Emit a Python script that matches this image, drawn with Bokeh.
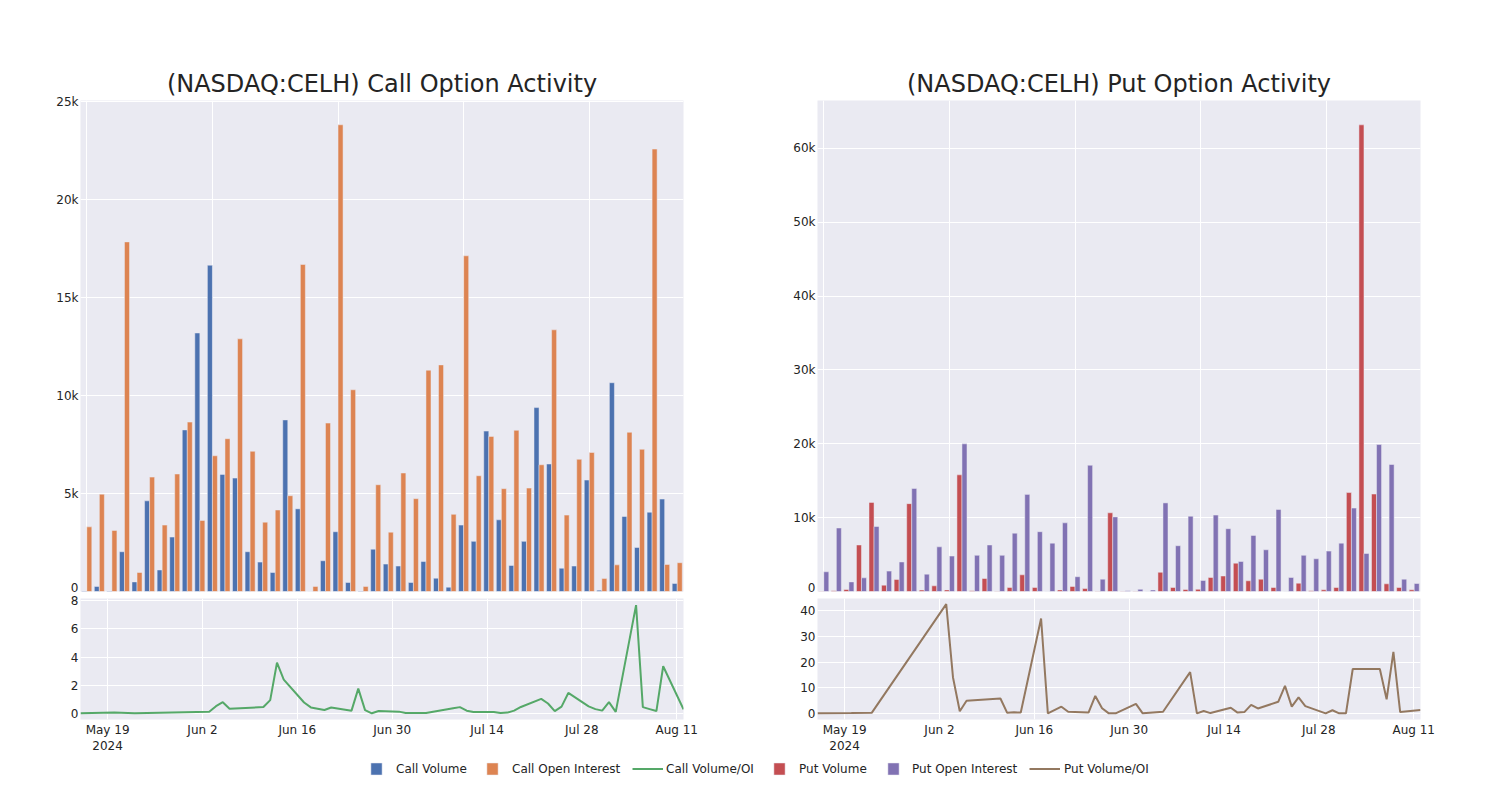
import numpy as np
import pandas as pd
from bokeh.plotting import figure
from bokeh.models import Range1d, FixedTicker, Legend, LegendItem, ColumnDataSource
from bokeh.transform import dodge
from bokeh.layouts import column, row
from bokeh.embed import file_html
from bokeh.resources import INLINE

# ---------------- data ----------------
dates = ["2024-05-15", "2024-05-20", "2024-05-23", "2024-06-03", "2024-06-04", "2024-06-05", "2024-06-06",
         "2024-06-11", "2024-06-12", "2024-06-13", "2024-06-14", "2024-06-17", "2024-06-18", "2024-06-20", "2024-06-21",
         "2024-06-24", "2024-06-25", "2024-06-26", "2024-06-27", "2024-06-28", "2024-07-01", "2024-07-02", "2024-07-05",
         "2024-07-09", "2024-07-10", "2024-07-11", "2024-07-12", "2024-07-15", "2024-07-16", "2024-07-17", "2024-07-18",
         "2024-07-19", "2024-07-22", "2024-07-23", "2024-07-24", "2024-07-25", "2024-07-26", "2024-07-29", "2024-07-30",
         "2024-07-31", "2024-08-01", "2024-08-02", "2024-08-05", "2024-08-06", "2024-08-07", "2024-08-08", "2024-08-09",
         "2024-08-12"]

call_volume = [30, 260, 30, 2030, 490, 4630, 1100, 2780, 8250, 13200,
               16660, 5980, 5790, 2030, 1500, 970, 8760, 4220, 0, 1570,
               3050, 460, 20, 2160, 1400, 1300, 460, 1530, 680, 220,
               3390, 2560, 8190, 3660, 1330, 2560, 9390, 6510, 1190, 1300,
               5690, 70, 10660, 3830, 2250, 4050, 4720, 410]
call_oi = [3300, 4970, 3120, 17850, 970, 5840, 3390, 6000, 8650, 3630,
           6930, 7800, 12900, 7160, 3540, 4160, 4890, 16700, 260, 8600,
           23830, 10300, 260, 5450, 3030, 6050, 4740, 11300, 11570, 3940,
           17140, 5910, 7920, 5250, 8230, 5280, 6470, 13360, 3900, 6750,
           7100, 660, 1360, 8130, 7260, 22590, 1380, 1470]
call_voi = [0.01, 0.05, 0.01, 0.11, 0.51, 0.79, 0.32, 0.45, 0.94, 3.6,
            2.4, 0.77, 0.42, 0.24, 0.41, 0.19, 1.76, 0.23, 0.0, 0.16,
            0.12, 0.03, 0.02, 0.36, 0.44, 0.19, 0.09, 0.1, 0.03, 0.05,
            0.19, 0.45, 1.03, 0.7, 0.16, 0.48, 1.45, 0.49, 0.3, 0.19,
            0.8, 0.1, 7.7, 0.44, 0.3, 0.16, 3.35, 0.28]

put_volume = [30, 100, 270, 6300, 12070, 860, 1630, 11900, 200, 770,
              220, 15800, 100, 1760, 50, 550, 2260, 550, 0, 220,
              680, 400, 50, 10660, 20, 50, 0, 2600, 550, 270,
              300, 1900, 2100, 3840, 1450, 1670, 540, 0, 1130, 100,
              230, 540, 13400, 63200, 13200, 1040, 540, 230]
put_oi = [2670, 8600, 1300, 1850, 8800, 2760, 4000, 13960, 2350, 6050,
          4800, 20000, 4900, 6300, 4900, 7900, 13150, 8100, 6550, 9300,
          2000, 17100, 1670, 10100, 100, 300, 200, 12000, 6200, 10200,
          1500, 10350, 8500, 4070, 7600, 5650, 11100, 1900, 4900, 4430,
          5470, 6550, 11300, 5150, 19900, 17200, 1670, 1080]
put_voi = [0.05, 0.1, 0.2, 42.6, 14.0, 0.8, 4.9, 5.8, 0.2, 0.4,
           0.3, 37.0, 0.0, 2.6, 0.6, 0.3, 6.8, 2.0, 0.0, 0.0,
           3.7, 0.0, 0.6, 16.1, 0.0, 0.9, 0.1, 2.2, 0.3, 0.5,
           3.3, 1.9, 4.5, 10.7, 2.6, 6.2, 2.8, 0.0, 1.2, 0.0,
           0.0, 17.3, 17.3, 17.3, 5.5, 24.0, 0.5, 1.3]

date_ticks = ["2024-05-19", "2024-06-02", "2024-06-16", "2024-06-30", "2024-07-14", "2024-07-28", "2024-08-11"]
date_tick_labels = ["May 19\n2024", "Jun 2", "Jun 16", "Jun 30", "Jul 14", "Jul 28", "Aug 11"]

call_bar_ticks = [0, 5000, 10000, 15000, 20000, 25000]
call_bar_labels = ["0", "5k", "10k", "15k", "20k", "25k"]
put_bar_ticks = [0, 10000, 20000, 30000, 40000, 50000, 60000]
put_bar_labels = ["0", "10k", "20k", "30k", "40k", "50k", "60k"]
call_line_ticks = [0, 2, 4, 6, 8]
put_line_ticks = [0, 10, 20, 30, 40]

# ---------------- style ----------------
FONT = "DejaVu Sans"
TXT = "#242424"
BG = "#EAEAF2"
C_CALL_VOL = "#4C72B0"
C_CALL_OI = "#DD8452"
C_CALL_VOI = "#55A868"
C_PUT_VOL = "#C44E52"
C_PUT_OI = "#8172B3"
C_PUT_VOI = "#937860"

FRAME_W = 603
BAR_H = 491
LINE_H = 122


def base_style(p):
    p.background_fill_color = BG
    p.border_fill_color = "white"
    p.outline_line_color = None
    for ax in p.axis:
        ax.axis_line_color = None
        ax.major_tick_line_color = None
        ax.minor_tick_line_color = None
        ax.major_tick_out = 0
        ax.major_tick_in = 0
        ax.minor_tick_out = 0
        ax.minor_tick_in = 0
        ax.major_label_text_font = FONT
        ax.major_label_text_font_size = "12px"
        ax.major_label_text_color = TXT
        ax.major_label_standoff = 2
    p.grid.grid_line_color = "white"
    p.grid.grid_line_width = 1


idx = list(range(len(dates)))
dts = pd.to_datetime(dates)
ms = dts.asi8 // 10**6
tick_ms = [float(v) for v in (pd.to_datetime(date_ticks).asi8 // 10**6)]


def bar_fig(title, v1, v2, c1, c2, ymax, yticks, ylabels, left, right):
    p = figure(width=left + FRAME_W + right, height=100 + BAR_H + 3,
               x_range=Range1d(-0.5, len(dates) - 0.5), y_range=Range1d(0, ymax),
               output_backend="svg", toolbar_location=None,
               min_border_left=left, min_border_right=right, min_border_top=100, min_border_bottom=3)
    src = ColumnDataSource(dict(x=idx, v1=v1, v2=v2))
    p.vbar(x=dodge("x", -0.2, range=p.x_range), top="v1", width=0.4, source=src,
           fill_color=c1, line_color=BG, line_width=0.5)
    p.vbar(x=dodge("x", 0.2, range=p.x_range), top="v2", width=0.4, source=src,
           fill_color=c2, line_color=BG, line_width=0.5)
    p.title.text = title
    p.title.align = "center"
    p.title.text_font = FONT
    p.title.text_font_size = "24px"
    p.title.text_font_style = "normal"
    p.title.text_color = TXT
    p.title.standoff = 6
    base_style(p)
    p.xaxis.visible = False
    p.xgrid.ticker = FixedTicker(ticks=[0, 10, 20, 30, 40])
    p.yaxis.ticker = FixedTicker(ticks=yticks)
    p.yaxis.major_label_overrides = {t: l for t, l in zip(yticks, ylabels)}
    return p


def line_fig(vals, color, ymin, ymax, yticks, left, right):
    p = figure(width=left + FRAME_W + right, height=4 + LINE_H + 36,
               x_axis_type="datetime",
               x_range=Range1d(float(ms[0]), float(ms[-1])), y_range=Range1d(ymin, ymax),
               output_backend="svg", toolbar_location=None,
               min_border_left=left, min_border_right=right, min_border_top=4, min_border_bottom=36)
    src = ColumnDataSource(dict(x=dts, y=vals))
    p.line("x", "y", source=src, line_color=color, line_width=2)
    base_style(p)
    p.xaxis.ticker = FixedTicker(ticks=tick_ms)
    p.xaxis.major_label_overrides = {t: l for t, l in zip(tick_ms, date_tick_labels)}
    p.xaxis.major_label_standoff = 3
    p.yaxis.ticker = FixedTicker(ticks=yticks)
    p.yaxis.major_label_overrides = {t: str(t) for t in yticks}
    return p


call_bar = bar_fig("(NASDAQ:CELH) Call Option Activity", call_volume, call_oi, C_CALL_VOL, C_CALL_OI,
                   25070, call_bar_ticks, call_bar_labels, 80, 57)
call_line = line_fig(call_voi, C_CALL_VOI, -0.44, 8.17, call_line_ticks, 80, 57)
put_bar = bar_fig("(NASDAQ:CELH) Put Option Activity", put_volume, put_oi, C_PUT_VOL, C_PUT_OI,
                  66500, put_bar_ticks, put_bar_labels, 77, 70)
put_line = line_fig(put_voi, C_PUT_VOI, -2.4, 44.8, put_line_ticks, 77, 70)

# ---------------- legend ----------------
lg = figure(width=1490, height=28, x_range=Range1d(0, 1), y_range=Range1d(0, 1),
            output_backend="svg", toolbar_location=None, min_border=0,
            x_axis_location=None, y_axis_location=None)
lg.outline_line_color = None
lg.grid.visible = False
lg.background_fill_color = "white"
lg.border_fill_color = "white"

nan = [np.nan]
r1 = lg.vbar(x=nan, top=nan, width=0.1, fill_color=C_CALL_VOL, line_color=BG, line_width=0.5)
r2 = lg.vbar(x=nan, top=nan, width=0.1, fill_color=C_CALL_OI, line_color=BG, line_width=0.5)
r3 = lg.line(x=nan, y=nan, line_color=C_CALL_VOI, line_width=2)
r4 = lg.vbar(x=nan, top=nan, width=0.1, fill_color=C_PUT_VOL, line_color=BG, line_width=0.5)
r5 = lg.vbar(x=nan, top=nan, width=0.1, fill_color=C_PUT_OI, line_color=BG, line_width=0.5)
r6 = lg.line(x=nan, y=nan, line_color=C_PUT_VOI, line_width=2)

legend_specs = [
    (r1, "Call Volume", 369, 14, 13),
    (r2, "Call Open Interest", 485, 14, 13),
    (r3, "Call Volume/OI", 632, 31, 3),
    (r4, "Put Volume", 772, 14, 13),
    (r5, "Put Open Interest", 886, 14, 12),
    (r6, "Put Volume/OI", 1029, 31, 4),
]
for r, label, x, gw, so in legend_specs:
    leg = Legend(items=[LegendItem(label=label, renderers=[r])], location=(x, 8),
                 orientation="horizontal", glyph_width=gw, glyph_height=15, label_standoff=so,
                 padding=0, margin=0, spacing=0, border_line_color=None, background_fill_alpha=0,
                 label_text_font=FONT, label_text_font_size="12px", label_text_color=TXT,
                 label_height=14)
    lg.add_layout(leg)

layout = column(row(column(call_bar, call_line), column(put_bar, put_line)), lg)
open("out.html", "w").write(file_html(layout, INLINE))
